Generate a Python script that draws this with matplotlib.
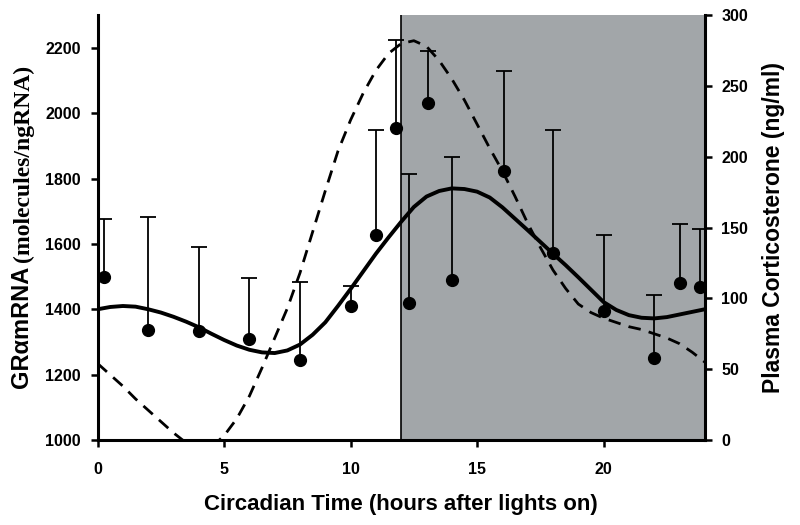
import matplotlib.pyplot as plt
import numpy as np

plt.rcParams['font.family'] = ['Liberation Sans', 'DejaVu Sans']
plt.rcParams['font.weight'] = 'bold'

# measured GR alpha mRNA points (left axis) with upper error bars
t_pts = [0.25, 2.0, 4.0, 6.0, 8.0, 10.0, 11.0, 11.8, 12.3, 13.05, 14.0, 16.05, 18.0, 20.0, 22.0, 23.0, 23.8]
gr_pts = [1500, 1336, 1333, 1308, 1245, 1410, 1627, 1955, 1418, 2030, 1491, 1824, 1571, 1395, 1250, 1479, 1469]
gr_top = [1675, 1683, 1590, 1497, 1482, 1472, 1948, 2223, 1815, 2190, 1866, 2128, 1950, 1627, 1443, 1660, 1645]

# fitted curves
t_fit = [0, 0.5, 1, 1.5, 2, 2.5, 3, 3.5, 4, 4.5, 5, 5.5, 6, 6.5, 7, 7.5, 8, 8.5, 9, 9.5,
         10, 10.5, 11, 11.5, 12, 12.5, 13, 13.5, 14, 14.5, 15, 15.5, 16, 16.5, 17, 17.5,
         18, 18.5, 19, 19.5, 20, 20.5, 21, 21.5, 22, 22.5, 23, 23.5, 24]
gr_fit = [1400, 1407, 1410, 1408, 1400, 1390, 1377, 1362, 1345, 1325, 1306, 1289, 1276, 1268, 1266, 1274,
          1292, 1322, 1360, 1410, 1462, 1516, 1570, 1620, 1668, 1713, 1745, 1762, 1770, 1768, 1760, 1742,
          1712, 1677, 1642, 1606, 1570, 1535, 1498, 1460, 1422, 1398, 1382, 1374, 1372, 1376, 1384, 1392, 1400]
cort_fit = [54, 46, 38, 29, 21, 13, 5, -2, -6, -5, 3, 15, 31, 51, 72, 93,
            118, 147, 176, 204, 226, 245, 261, 273, 280, 282, 278, 268, 255, 240, 223, 206,
            190, 172, 153, 136, 120, 107, 96, 90, 86, 83, 80, 78, 75, 72, 68, 62, 55]

fig = plt.figure(figsize=(8, 5.25), dpi=100)
ax = fig.add_axes([0.122, 0.162, 0.759, 0.809])
ax2 = ax.twinx()

ax.axvspan(12, 24, color='#a2a6a9', zorder=0, lw=0)
ax.axvline(12, color='black', lw=1.2, zorder=1)

ax.plot(t_fit, gr_fit, color='black', lw=2.8, zorder=3)
ax2.plot(t_fit, cort_fit, color='black', lw=2.0, dashes=(4.5, 3), zorder=3)

ax.vlines(t_pts, gr_pts, gr_top, color='black', lw=1.3, zorder=4)
ax.plot(t_pts, gr_top, ls='none', marker='_', ms=12, mew=1.3, color='black', zorder=4)
ax.plot(t_pts, gr_pts, ls='none', marker='o', ms=8.5, color='black', zorder=5)

ax.set_xlim(0, 24)
ax.set_ylim(1000, 2300)
ax2.set_ylim(0, 300)
ax.set_xticks([0, 5, 10, 15, 20])
ax.set_yticks([1000, 1200, 1400, 1600, 1800, 2000, 2200])
ax2.set_yticks([0, 50, 100, 150, 200, 250, 300])

for a in (ax, ax2):
    a.spines['top'].set_visible(False)
    for s in a.spines.values():
        s.set_linewidth(2.2)
    a.tick_params(direction='out', length=5, width=1.8, labelsize=11.5, pad=7)
ax.tick_params(axis='x', pad=11)
ax2.spines['left'].set_visible(False)
ax2.spines['bottom'].set_visible(False)
ax.spines['right'].set_visible(False)
for lab in ax.get_xticklabels() + ax.get_yticklabels() + ax2.get_yticklabels():
    lab.set_fontweight('bold')

ax.set_xlabel('Circadian Time (hours after lights on)', fontsize=16, fontweight='bold', labelpad=12)
ax2.set_ylabel('Plasma Corticosterone (ng/ml)', fontsize=16.5, fontweight='bold', labelpad=10)

# left label: sans part and serif part
fig.text(22 / 800, 1 - 388 / 525, 'GR\u03b1mRNA', rotation=90, ha='center', va='bottom',
         fontsize=17, fontweight='bold')
fig.text(23 / 800, 1 - 262 / 525, '(molecules/ngRNA)', rotation=90, ha='center', va='bottom',
         fontsize=17, fontweight='bold', family=['Liberation Serif', 'DejaVu Serif'])

fig.savefig('out.png', dpi=100)
